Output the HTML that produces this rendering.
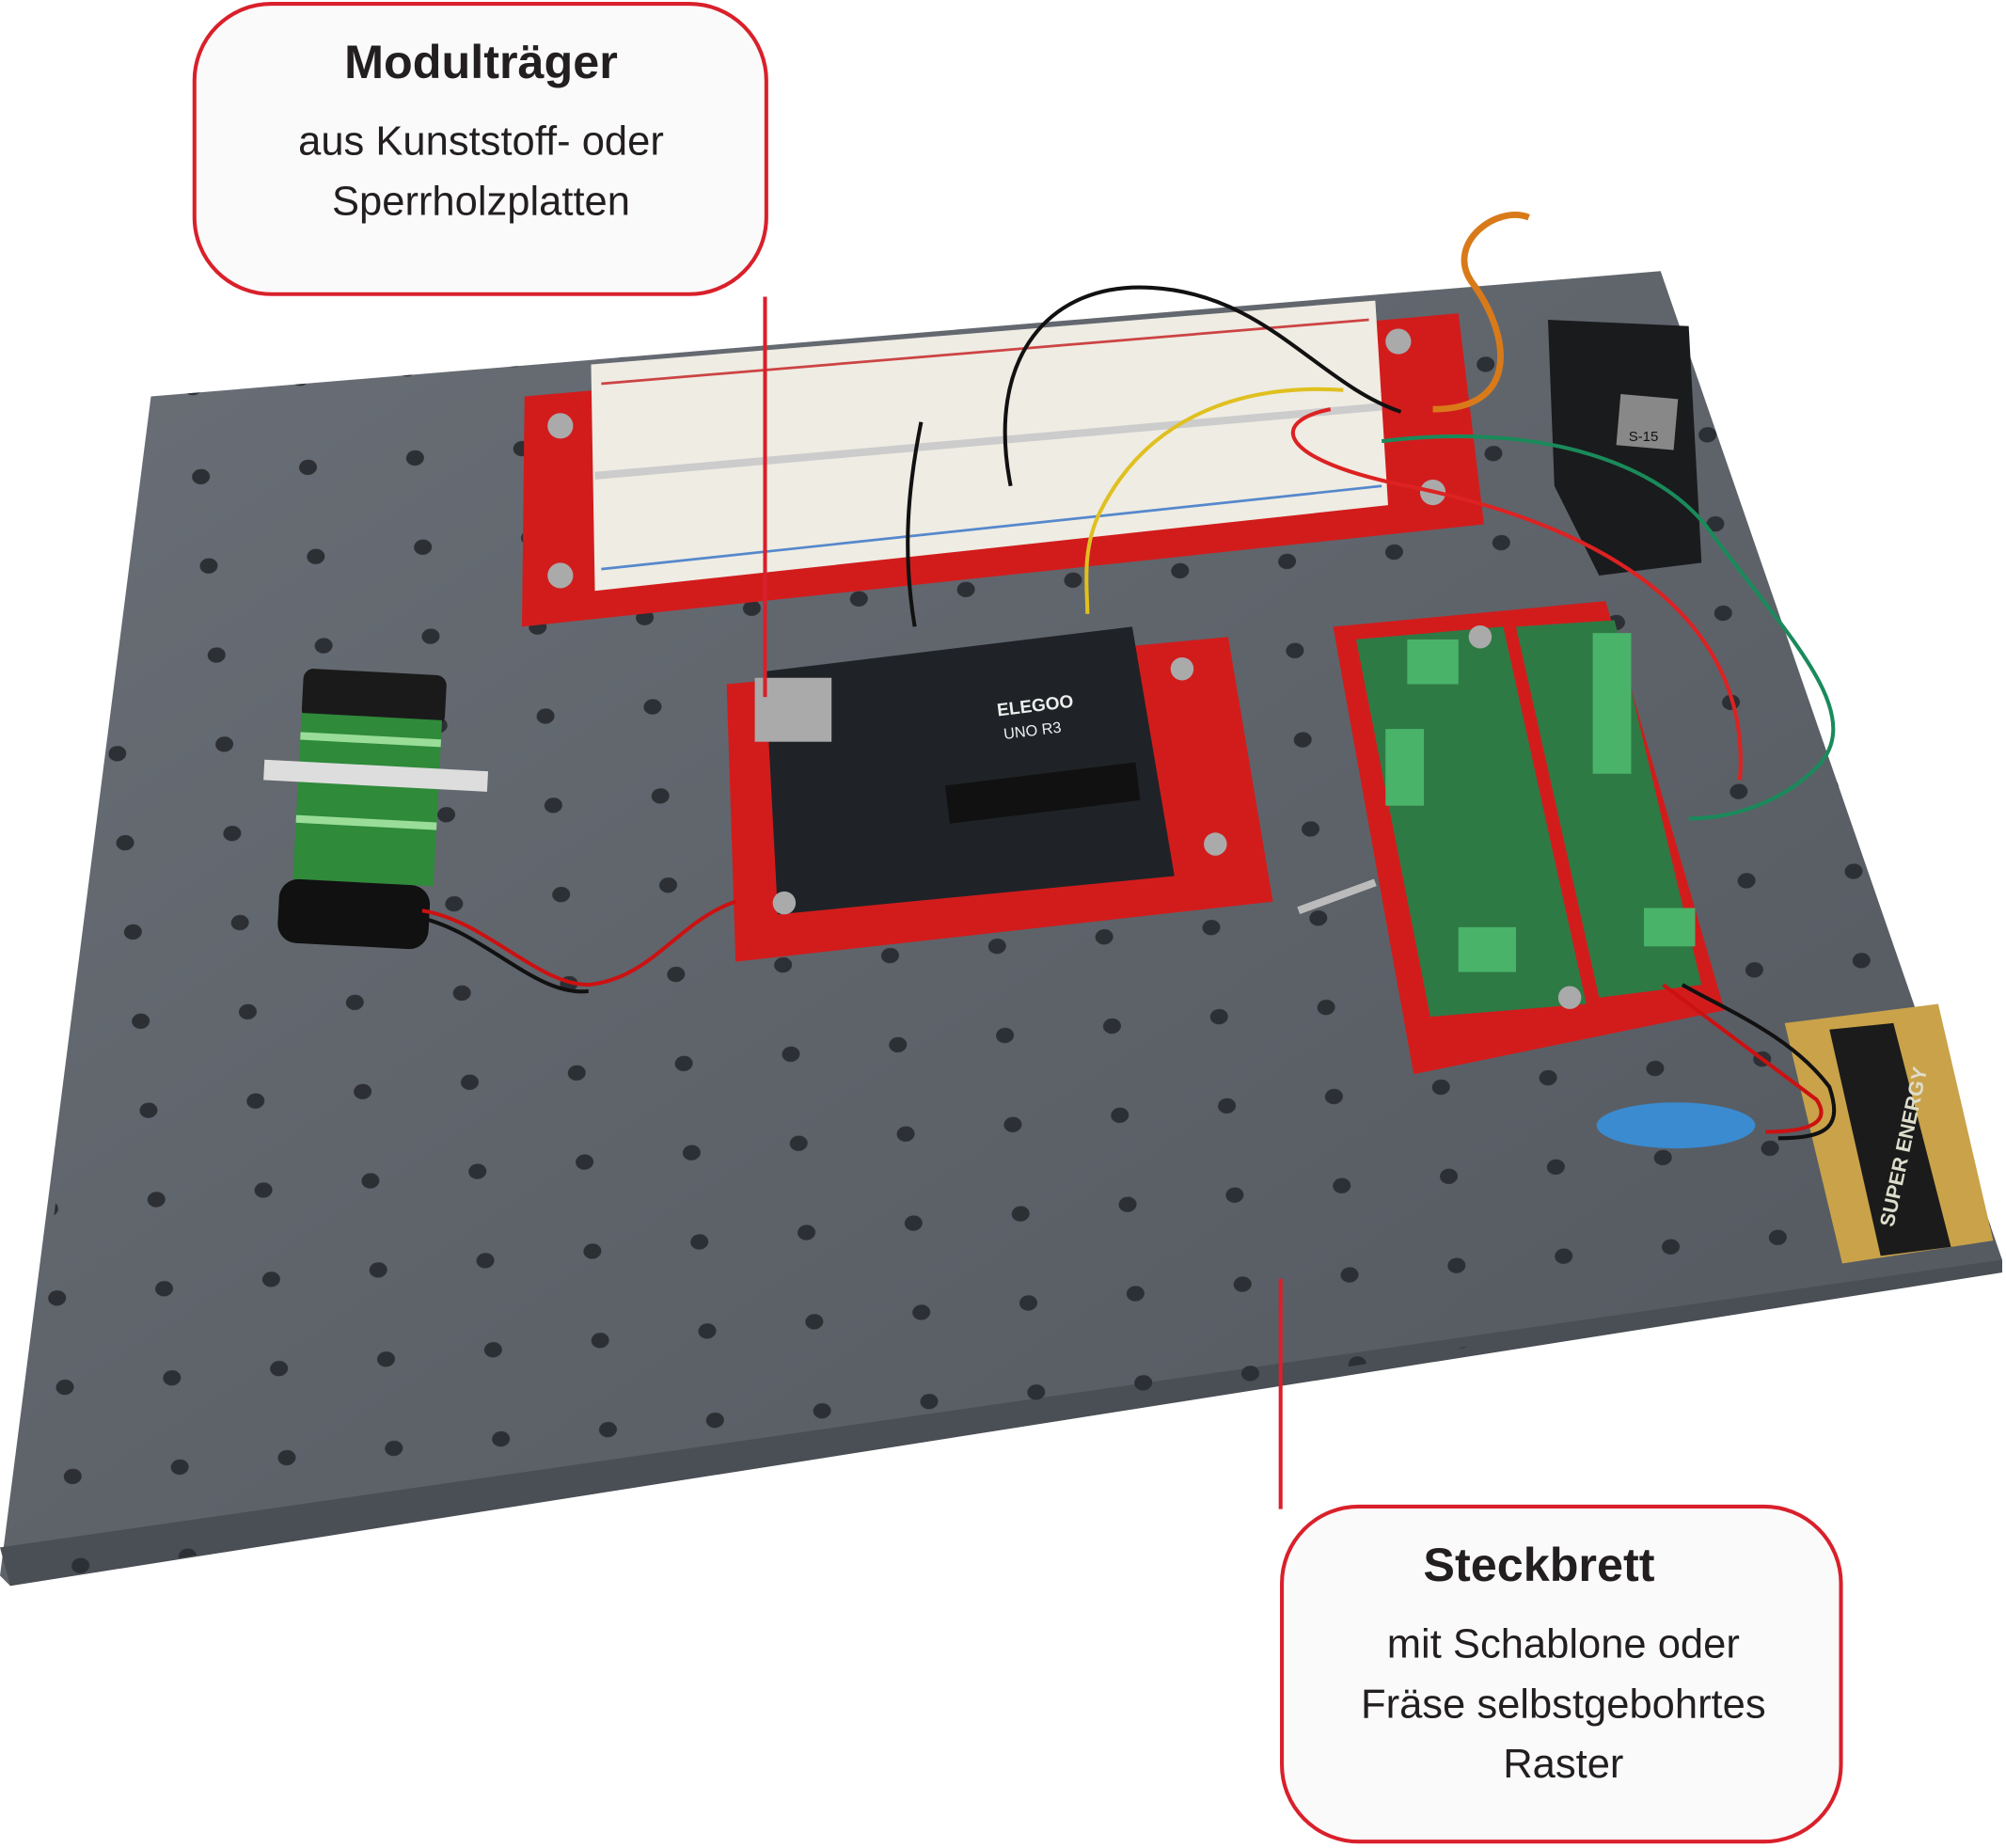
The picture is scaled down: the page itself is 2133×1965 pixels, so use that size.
<!DOCTYPE html>
<html><head><meta charset="utf-8"><style>
html,body{margin:0;padding:0;background:#fff;}
svg{display:block;}
</style></head><body>
<svg width="2133" height="1965" viewBox="0 0 1568 1445" preserveAspectRatio="none" xmlns="http://www.w3.org/2000/svg">
<defs>
<linearGradient id="bg" x1="0" y1="0" x2="1" y2="1">
<stop offset="0" stop-color="#6a6f77"/><stop offset="0.5" stop-color="#5e636a"/><stop offset="1" stop-color="#53585f"/>
</linearGradient>
<pattern id="holes" width="84" height="70" patternUnits="userSpaceOnUse" patternTransform="rotate(-5)">
<ellipse cx="40" cy="35" rx="7" ry="6" fill="#2c2f34"/>
</pattern>
<clipPath id="bc"><polygon points="118,310 1298,212 1565,985 8,1240"/></clipPath>
</defs>
<rect width="1568" height="1445" fill="#fff"/>
<!-- board -->
<polygon points="118,310 1298,212 1565,985 1565,995 8,1240 0,1232" fill="url(#bg)"/>
<polygon points="0,1210 1565,985 1565,995 8,1240" fill="#4a4e55"/>
<rect x="0" y="200" width="1568" height="1050" fill="url(#holes)" clip-path="url(#bc)"/>
<!-- breadboard -->
<polygon points="410,310 1140,245 1160,410 408,490" fill="#d21c1c"/>
<polygon points="462,285 1075,235 1085,395 465,462" fill="#efece3"/>
<line x1="470" y1="300" x2="1070" y2="250" stroke="#c44" stroke-width="2"/>
<line x1="470" y1="445" x2="1080" y2="380" stroke="#58c" stroke-width="2"/>
<line x1="465" y1="372" x2="1080" y2="318" stroke="#ccc" stroke-width="6"/>
<circle cx="438" cy="333" r="10" fill="#aaa"/><circle cx="1093" cy="267" r="10" fill="#aaa"/>
<circle cx="438" cy="450" r="10" fill="#aaa"/><circle cx="1120" cy="385" r="10" fill="#aaa"/>
<!-- arduino -->
<polygon points="568,535 960,498 995,705 575,752" fill="#d21c1c"/>
<polygon points="598,525 885,490 918,685 608,715" fill="#1f2327"/>
<rect x="590" y="530" width="60" height="50" fill="#aaa"/>
<rect x="740" y="605" width="150" height="30" fill="#111" transform="rotate(-7 815 620)"/>
<text x="780" y="560" fill="#eee" font-family="Liberation Sans, sans-serif" font-size="14" font-weight="bold" transform="rotate(-7 780 560)">ELEGOO</text>
<text x="785" y="578" fill="#eee" font-family="Liberation Sans, sans-serif" font-size="12" transform="rotate(-7 785 578)">UNO R3</text>
<circle cx="924" cy="523" r="9" fill="#aaa"/><circle cx="950" cy="660" r="9" fill="#aaa"/><circle cx="613" cy="706" r="9" fill="#aaa"/>
<!-- right plate -->
<polygon points="1042,490 1255,470 1348,790 1105,840" fill="#d21c1c"/>
<polygon points="1060,500 1175,490 1240,785 1118,795" fill="#2e7a45"/>
<polygon points="1185,490 1262,485 1330,770 1250,780" fill="#2e7a45"/>
<rect x="1100" y="500" width="40" height="35" fill="#4ab36a"/>
<rect x="1083" y="570" width="30" height="60" fill="#4ab36a"/>
<rect x="1245" y="495" width="30" height="110" fill="#4ab36a"/>
<rect x="1140" y="725" width="45" height="35" fill="#4ab36a"/>
<rect x="1285" y="710" width="40" height="30" fill="#4ab36a"/>
<circle cx="1157" cy="498" r="9" fill="#aaa"/><circle cx="1227" cy="780" r="9" fill="#aaa"/>
<line x1="1015" y1="712" x2="1075" y2="690" stroke="#bbb" stroke-width="6"/>
<!-- servo -->
<polygon points="1210,250 1320,255 1330,440 1250,450 1215,380" fill="#1a1b1d"/>
<rect x="1265" y="310" width="45" height="40" fill="#888" transform="rotate(5 1287 330)"/>
<text x="1273" y="345" font-family="Liberation Sans, sans-serif" font-size="11" fill="#111">S-15</text>
<!-- left battery -->
<g transform="rotate(3 283 630)">
<rect x="232" y="525" width="112" height="40" rx="8" fill="#1a1a1a"/>
<rect x="232" y="560" width="110" height="130" fill="#2f8a3a"/>
<rect x="232" y="575" width="110" height="6" fill="#9d9"/><rect x="232" y="605" width="110" height="6" fill="#9d9"/><rect x="232" y="640" width="110" height="6" fill="#9d9"/>
<rect x="205" y="598" width="175" height="16" fill="#ddd"/>
<rect x="222" y="690" width="118" height="50" rx="15" fill="#111"/>
</g>
<!-- right battery -->
<polygon points="1395,800 1515,785 1558,970 1440,988" fill="#c9a24a"/>
<polygon points="1430,805 1480,800 1525,975 1470,982" fill="#1b1b1b"/>
<text x="1480" y="960" fill="#ddc" font-family="Liberation Sans, sans-serif" font-size="16" font-weight="bold" transform="rotate(-78 1480 960)">SUPER ENERGY</text>
<ellipse cx="1310" cy="880" rx="62" ry="18" fill="#3a8bd0"/>
<!-- wires -->
<g fill="none" stroke-width="3">
<path d="M1095,322 C1030,300 990,230 900,225 C820,220 770,280 790,380" stroke="#111"/>
<path d="M1050,305 C980,300 900,320 860,400 C845,430 850,460 850,480" stroke="#e0c020"/>
<path d="M1040,320 C990,330 1000,360 1100,380 C1250,410 1370,480 1360,610 1320,620" stroke="#d22"/>
<path d="M1080,345 C1200,330 1300,360 1340,420 C1400,500 1460,560 1420,600 C1390,630 1350,640 1320,640" stroke="#1a8a5a"/>
<path d="M1120,320 C1190,320 1180,260 1150,220 C1130,190 1170,160 1195,170" stroke="#d97a1a" stroke-width="5"/>
<path d="M720,330 C710,380 705,430 715,490" stroke="#111"/>
<path d="M330,712 C380,720 420,770 460,770 C510,765 530,720 575,705" stroke="#c11"/>
<path d="M330,718 C380,730 420,780 460,775" stroke="#111"/>
<path d="M1300,770 C1340,800 1380,830 1420,860 C1430,875 1420,885 1380,885" stroke="#c11"/>
<path d="M1315,770 C1350,790 1400,810 1430,850 C1440,880 1430,890 1390,890" stroke="#111"/>
</g>
<!-- callout 1 -->
<path d="M598,232 L598,545" stroke="#d9202b" stroke-width="3" fill="none"/>
<rect x="152" y="3" width="447" height="227" rx="60" fill="#fafafa" stroke="#d9202b" stroke-width="3"/>
<g font-family="Liberation Sans, sans-serif" fill="#231f20" text-anchor="middle">
<text x="376" y="61" font-size="37" font-weight="bold">Modulträger</text>
<text x="376" y="121" font-size="32">aus Kunststoff- oder</text>
<text x="376" y="168" font-size="32">Sperrholzplatten</text>
</g>
<!-- callout 2 -->
<path d="M1001,1000 L1001,1180" stroke="#d9202b" stroke-width="3" fill="none"/>
<rect x="1002" y="1178" width="437" height="262" rx="60" fill="#fafafa" stroke="#d9202b" stroke-width="3"/>
<g font-family="Liberation Sans, sans-serif" fill="#231f20" text-anchor="middle">
<text x="1203" y="1236" font-size="37" font-weight="bold">Steckbrett</text>
<text x="1222" y="1296" font-size="32">mit Schablone oder</text>
<text x="1222" y="1343" font-size="32">Fräse selbstgebohrtes</text>
<text x="1222" y="1390" font-size="32">Raster</text>
</g>
</svg>
</body></html>
